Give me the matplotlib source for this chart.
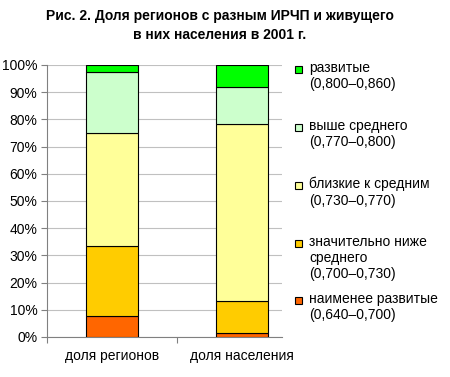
import matplotlib.pyplot as plt
from matplotlib.patches import Rectangle

plt.rcParams['font.family'] = ['Liberation Sans', 'DejaVu Sans']

# доли, % (снизу вверх)
kategorii = ['доля регионов', 'доля населения']
naimenee = [7.8, 1.5]
znachitelno_nizhe = [25.7, 11.6]
blizkie = [41.4, 65.2]
vyshe = [22.5, 13.5]
razvitye = [2.6, 8.2]

serii = [naimenee, znachitelno_nizhe, blizkie, vyshe, razvitye]
cveta = ['#FF6600', '#FFCC00', '#FFFF99', '#CCFFCC', '#00FF00']
legenda = ['наименее развитые\n(0,640–0,700)',
           'значительно ниже\nсреднего\n(0,700–0,730)',
           'близкие к средним\n(0,730–0,770)',
           'выше среднего\n(0,770–0,800)',
           'развитые\n(0,800–0,860)']

W, H = 450, 377
fs = 10
fig = plt.figure(figsize=(W / 100, H / 100), dpi=100)
ax = fig.add_axes([47 / W, 1 - 337 / H, (282 - 47) / W, (337 - 65) / H])

x = list(range(len(kategorii)))
niz = [0, 0]
for vals, c in zip(serii, cveta):
    ax.bar(x, vals, bottom=niz, width=0.4, color=c, edgecolor='black', linewidth=0.8, zorder=3)
    niz = [a + b for a, b in zip(niz, vals)]

ax.set_xlim(-0.5, 1.308)
ax.set_ylim(0, 100)
ax.set_yticks(range(0, 101, 10))
ax.set_yticklabels([f'{v}%' for v in range(0, 101, 10)], fontsize=fs)
ax.yaxis.grid(True, color='#c0c0c0', linewidth=0.8, zorder=0)
ax.set_xticks([-0.5, 0.5])
ax.set_xticklabels([])
ax.tick_params(axis='x', length=4, direction='out', color='#808080')
ax.tick_params(axis='y', length=4, direction='out', color='#808080', pad=3)
for s in ['top', 'right']:
    ax.spines[s].set_visible(False)
for s in ['left', 'bottom']:
    ax.spines[s].set_color('#808080')
for xi, k in zip(x, kategorii):
    ax.text(xi, -19 / 272, k, transform=ax.get_xaxis_transform(), fontsize=fs, ha='center', va='center')

# заголовок
fig.text(220 / W, 1 - 16 / H, 'Рис. 2. Доля регионов с разным ИРЧП и живущего',
         fontsize=fs, fontweight='bold', ha='center', va='center')
fig.text(220 / W, 1 - 35 / H, 'в них населения в 2001 г.',
         fontsize=fs, fontweight='bold', ha='center', va='center')

# легенда
pozicii = [300, 243, 185, 127, 69]
for ypix, c, t in zip(pozicii, cveta, legenda):
    fig.patches.append(Rectangle(((298 - 3.5) / W, 1 - (ypix + 3.5) / H), 7 / W, 7 / H,
                                 transform=fig.transFigure, facecolor=c,
                                 edgecolor='black', linewidth=0.8))
    fig.text(309 / W, 1 - (ypix - 8) / H, t, fontsize=fs, ha='left', va='top', linespacing=1.2)

fig.savefig('out.png', dpi=100)
